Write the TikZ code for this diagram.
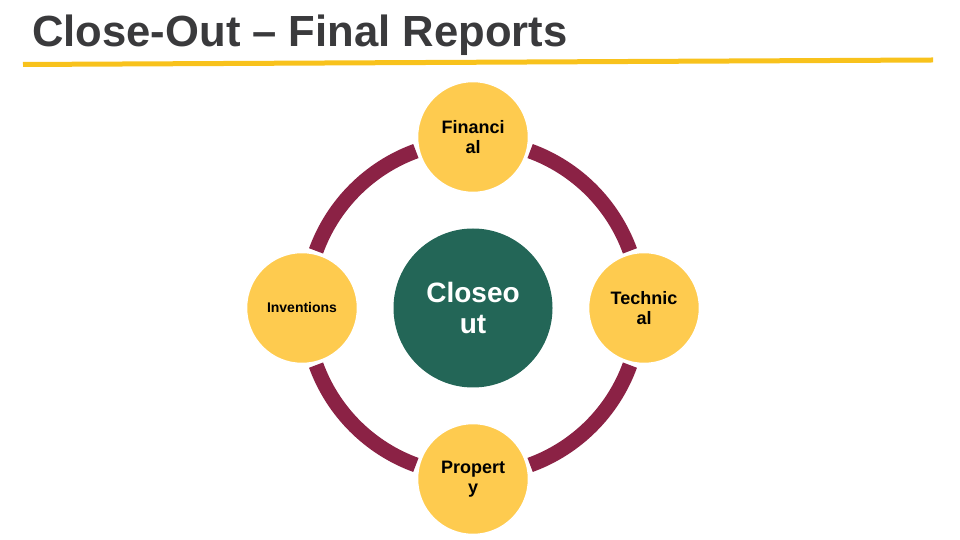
\documentclass[tikz,border=0pt]{standalone}
\usepackage{fontspec}
\setmainfont{Liberation Sans}
\definecolor{titlegray}{HTML}{3A3A3C}
\definecolor{rulegold}{HTML}{F8C21C}
\definecolor{petalyellow}{HTML}{FECB4F}
\definecolor{ringred}{HTML}{8B2245}
\definecolor{hubgreen}{HTML}{236657}
\begin{document}
\begin{tikzpicture}[x=1pt,y=1pt,
  petal/.style={circle,fill=petalyellow,draw=white,line width=1.5pt,minimum size=111pt,inner sep=0pt,align=center,font=\bfseries\fontsize{18}{20}\selectfont},
  ring/.style={draw=ringred,line width=15pt}]
\useasboundingbox (0,0) rectangle (960,540);

% title and rule
\node[anchor=base west,inner sep=0pt,text=titlegray,font=\bfseries\fontsize{43.6}{48}\selectfont] (title) at (32,493) {Close-Out \textendash{} Final Reports};
\draw[rulegold,line width=5pt] (23,475.5) -- (933,480);

% hub
\node[circle,fill=hubgreen,minimum size=159pt,inner sep=0pt,align=center,text=white,font=\bfseries\fontsize{28}{31}\selectfont] (hub) at (473,232) {Closeo\\ut};

% ring pieces
\foreach \a in {20,110,200,290}
  \draw[ring] (hub.center) ++(\a:167) arc[start angle=\a,delta angle=50,radius=167];

% petals
\node[petal] (fin) at (473,403) {Financi\\al}; %top
\node[petal] (tech) at (644,232) {Technic\\al}; %right
\node[petal] (prop) at (473,61) {Propert\\y}; %bottom
\node[petal,font=\bfseries\fontsize{14}{16}\selectfont] (inv) at (302,232) {Inventions}; %left

\end{tikzpicture}
\end{document}
